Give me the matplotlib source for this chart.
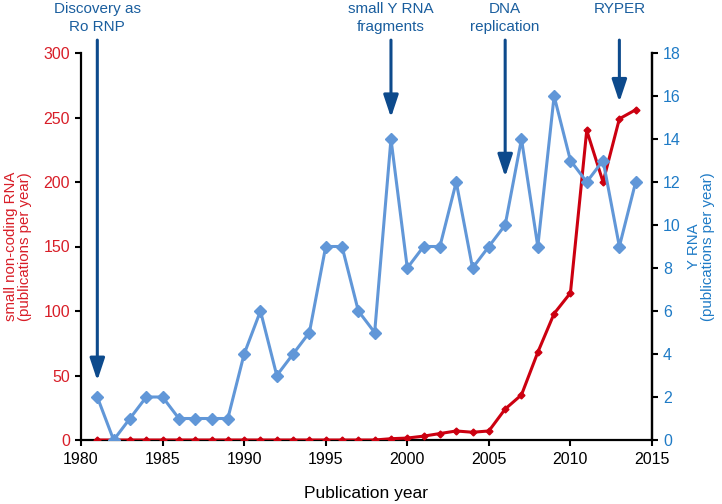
import matplotlib
matplotlib.use('Agg')
import matplotlib.pyplot as plt
import matplotlib.transforms as mtransforms

plt.rcParams['font.family'] = ['Liberation Sans', 'DejaVu Sans']

# publications per year
years = list(range(1981, 2015))
sncrna = [0, 0, 0, 0, 0, 0, 0, 0, 0, 0, 0, 0, 0, 0, 0, 0, 0, 0,
          1, 1.5, 3, 5, 7, 6, 7, 24, 35, 68, 98, 114, 240, 200, 249, 256]
yrna = [2, 0, 1, 2, 2, 1, 1, 1, 1, 4, 6, 3, 4, 5, 9, 9, 6, 5,
        14, 8, 9, 9, 12, 8, 9, 10, 14, 9, 16, 13, 12, 13, 9, 12]

# milestones: year, label, arrow tip (left axis units)
event_years = [1981, 1999, 2006, 2013]
event_labels = ['Discovery as\nRo RNP', 'small Y RNA\nfragments', 'DNA\nreplication', 'RYPER']
event_tips = [46, 250, 204, 262]

red = '#CC0010'
red_txt = '#D81E28'
blue = '#6197D8'
blue_txt = '#1F7BC6'
navy = '#0D4A8C'

fig = plt.figure(figsize=(7.22, 5.04), dpi=100)
ax = fig.add_axes([81/722, 1-440/504, (652-81)/722, (440-53)/504])
ax2 = ax.twinx()

ax.plot(years, sncrna, color=red, lw=2.2, marker='D', ms=3.5, mec=red, mfc=red, zorder=3)
ax2.plot(years, yrna, color=blue, lw=2.2, marker='D', ms=6, mec=blue, mfc=blue)

ax.set_xlim(1980, 2015)
ax.set_ylim(0, 300)
ax2.set_ylim(0, 18)
ax.set_xticks(range(1980, 2016, 5))
ax.set_yticks(range(0, 301, 50))
ax2.set_yticks(range(0, 19, 2))

for a in (ax, ax2):
    a.spines['top'].set_visible(False)
    for s in a.spines.values():
        s.set_linewidth(1.6)
ax2.spines['left'].set_visible(False)
ax2.spines['bottom'].set_visible(False)

ax.tick_params(axis='x', length=4, width=1.5, labelsize=11.5, pad=5)
ax.tick_params(axis='y', length=4, width=1.5, labelsize=11.5, labelcolor=red_txt, pad=4)
ax2.tick_params(axis='y', length=4, width=1.5, labelsize=11.5, labelcolor=blue_txt, pad=4)

ax.set_xlabel('Publication year', fontsize=12.5, labelpad=13)
ax.set_ylabel('small non-coding RNA\n(publications per year)', fontsize=10.8, color=red_txt,
              labelpad=8, linespacing=1.05)
ax2.set_ylabel('Y RNA\n(publications per year)', fontsize=10.8, color=blue_txt,
               labelpad=4, linespacing=1.05)

trans = mtransforms.blended_transform_factory(ax.transData, fig.transFigure)
for yr, lab, tip in zip(event_years, event_labels, event_tips):
    ax.annotate('', xy=(yr, tip), xytext=(yr, 310), annotation_clip=False,
                arrowprops=dict(arrowstyle='-|>,head_width=0.45,head_length=1.35',
                                lw=2.2, color=navy, shrinkA=0, shrinkB=0),
                zorder=5)
    ax.text(yr, 0.997, lab, transform=trans, ha='center', va='top',
            fontsize=11, color='#1A5E9E', linespacing=1.4)

fig.savefig('out.png', dpi=100)
